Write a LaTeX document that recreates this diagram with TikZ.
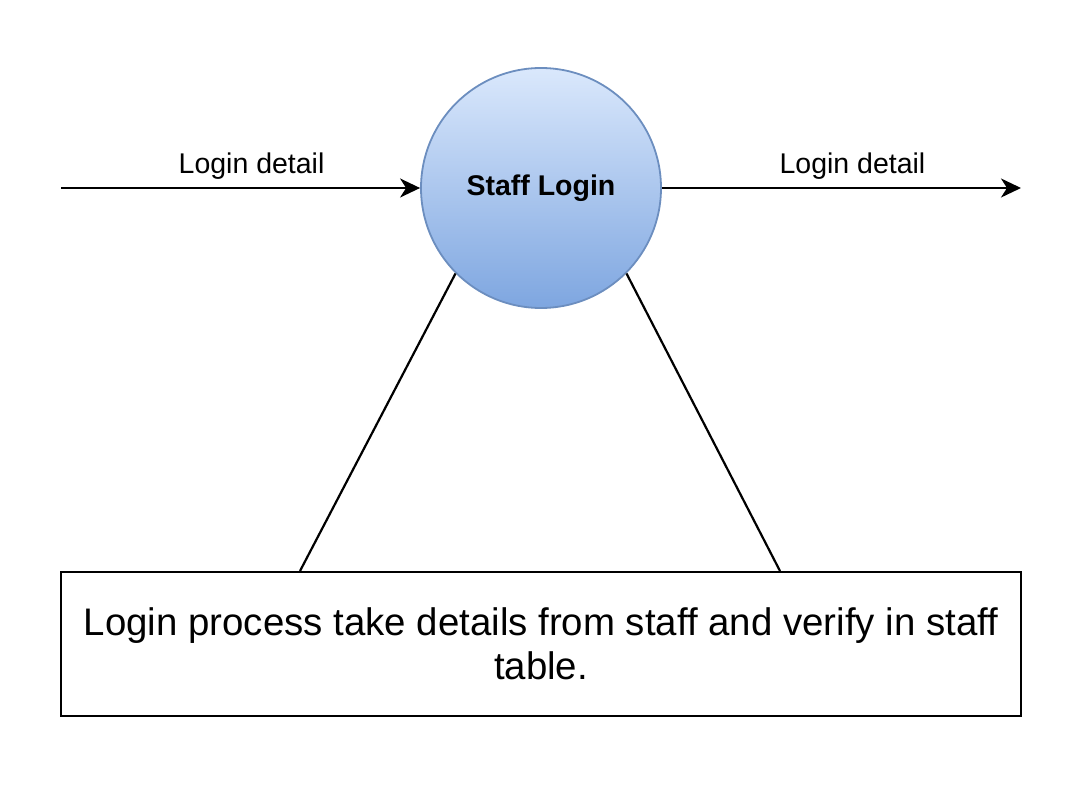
\documentclass[tikz,border=0pt]{standalone}
\usepackage{fontspec}
\setmainfont{Liberation Sans}
\usetikzlibrary{arrows.meta,calc}
\definecolor{procTop}{HTML}{DAE8FC}
\definecolor{procBot}{HTML}{7EA6E0}
\definecolor{procLine}{HTML}{6C8EBF}
\tikzset{
  proc/.style={circle, minimum size=240pt, inner sep=0pt, draw=procLine, line width=1.8pt,
    top color=procTop, bottom color=procBot, font=\fontsize{28.5}{34}\selectfont\bfseries},
  note/.style={draw=black, line width=2pt, minimum width=960pt, minimum height=144pt,
    inner sep=0pt, align=center, font=\fontsize{38.4}{43.5}\selectfont},
  flow/.style={line width=2.2pt, -{Stealth[length=20pt,width=19pt,inset=6pt]}},
  link/.style={line width=2.2pt},
  lbl/.style={font=\fontsize{28.5}{34}\selectfont, inner sep=0pt}
}
\begin{document}
\begin{tikzpicture}[x=1pt,y=-1pt]
\useasboundingbox (0,0) rectangle (1092,794);
\node[proc] (c) at (541,188) {\raisebox{-2pt}{Staff Login}};
\node[note] (box) at (541,644) {Login process take details from staff and verify in staff\\table.};
\coordinate (in) at (61,188);
\coordinate (out) at (1021,188);
\draw[flow] (in) -- node[lbl, pos=0.5, xshift=11pt, yshift=22pt] {Login detail} (c.west);
\draw[flow] (c.east) -- node[lbl, pos=0.5, xshift=11pt, yshift=22pt] {Login detail} (out);
\draw[link] (c.225) -- ([xshift=240pt]box.north west);
\draw[link] (c.-45) -- ([xshift=720pt]box.north west);
\end{tikzpicture}
\end{document}
